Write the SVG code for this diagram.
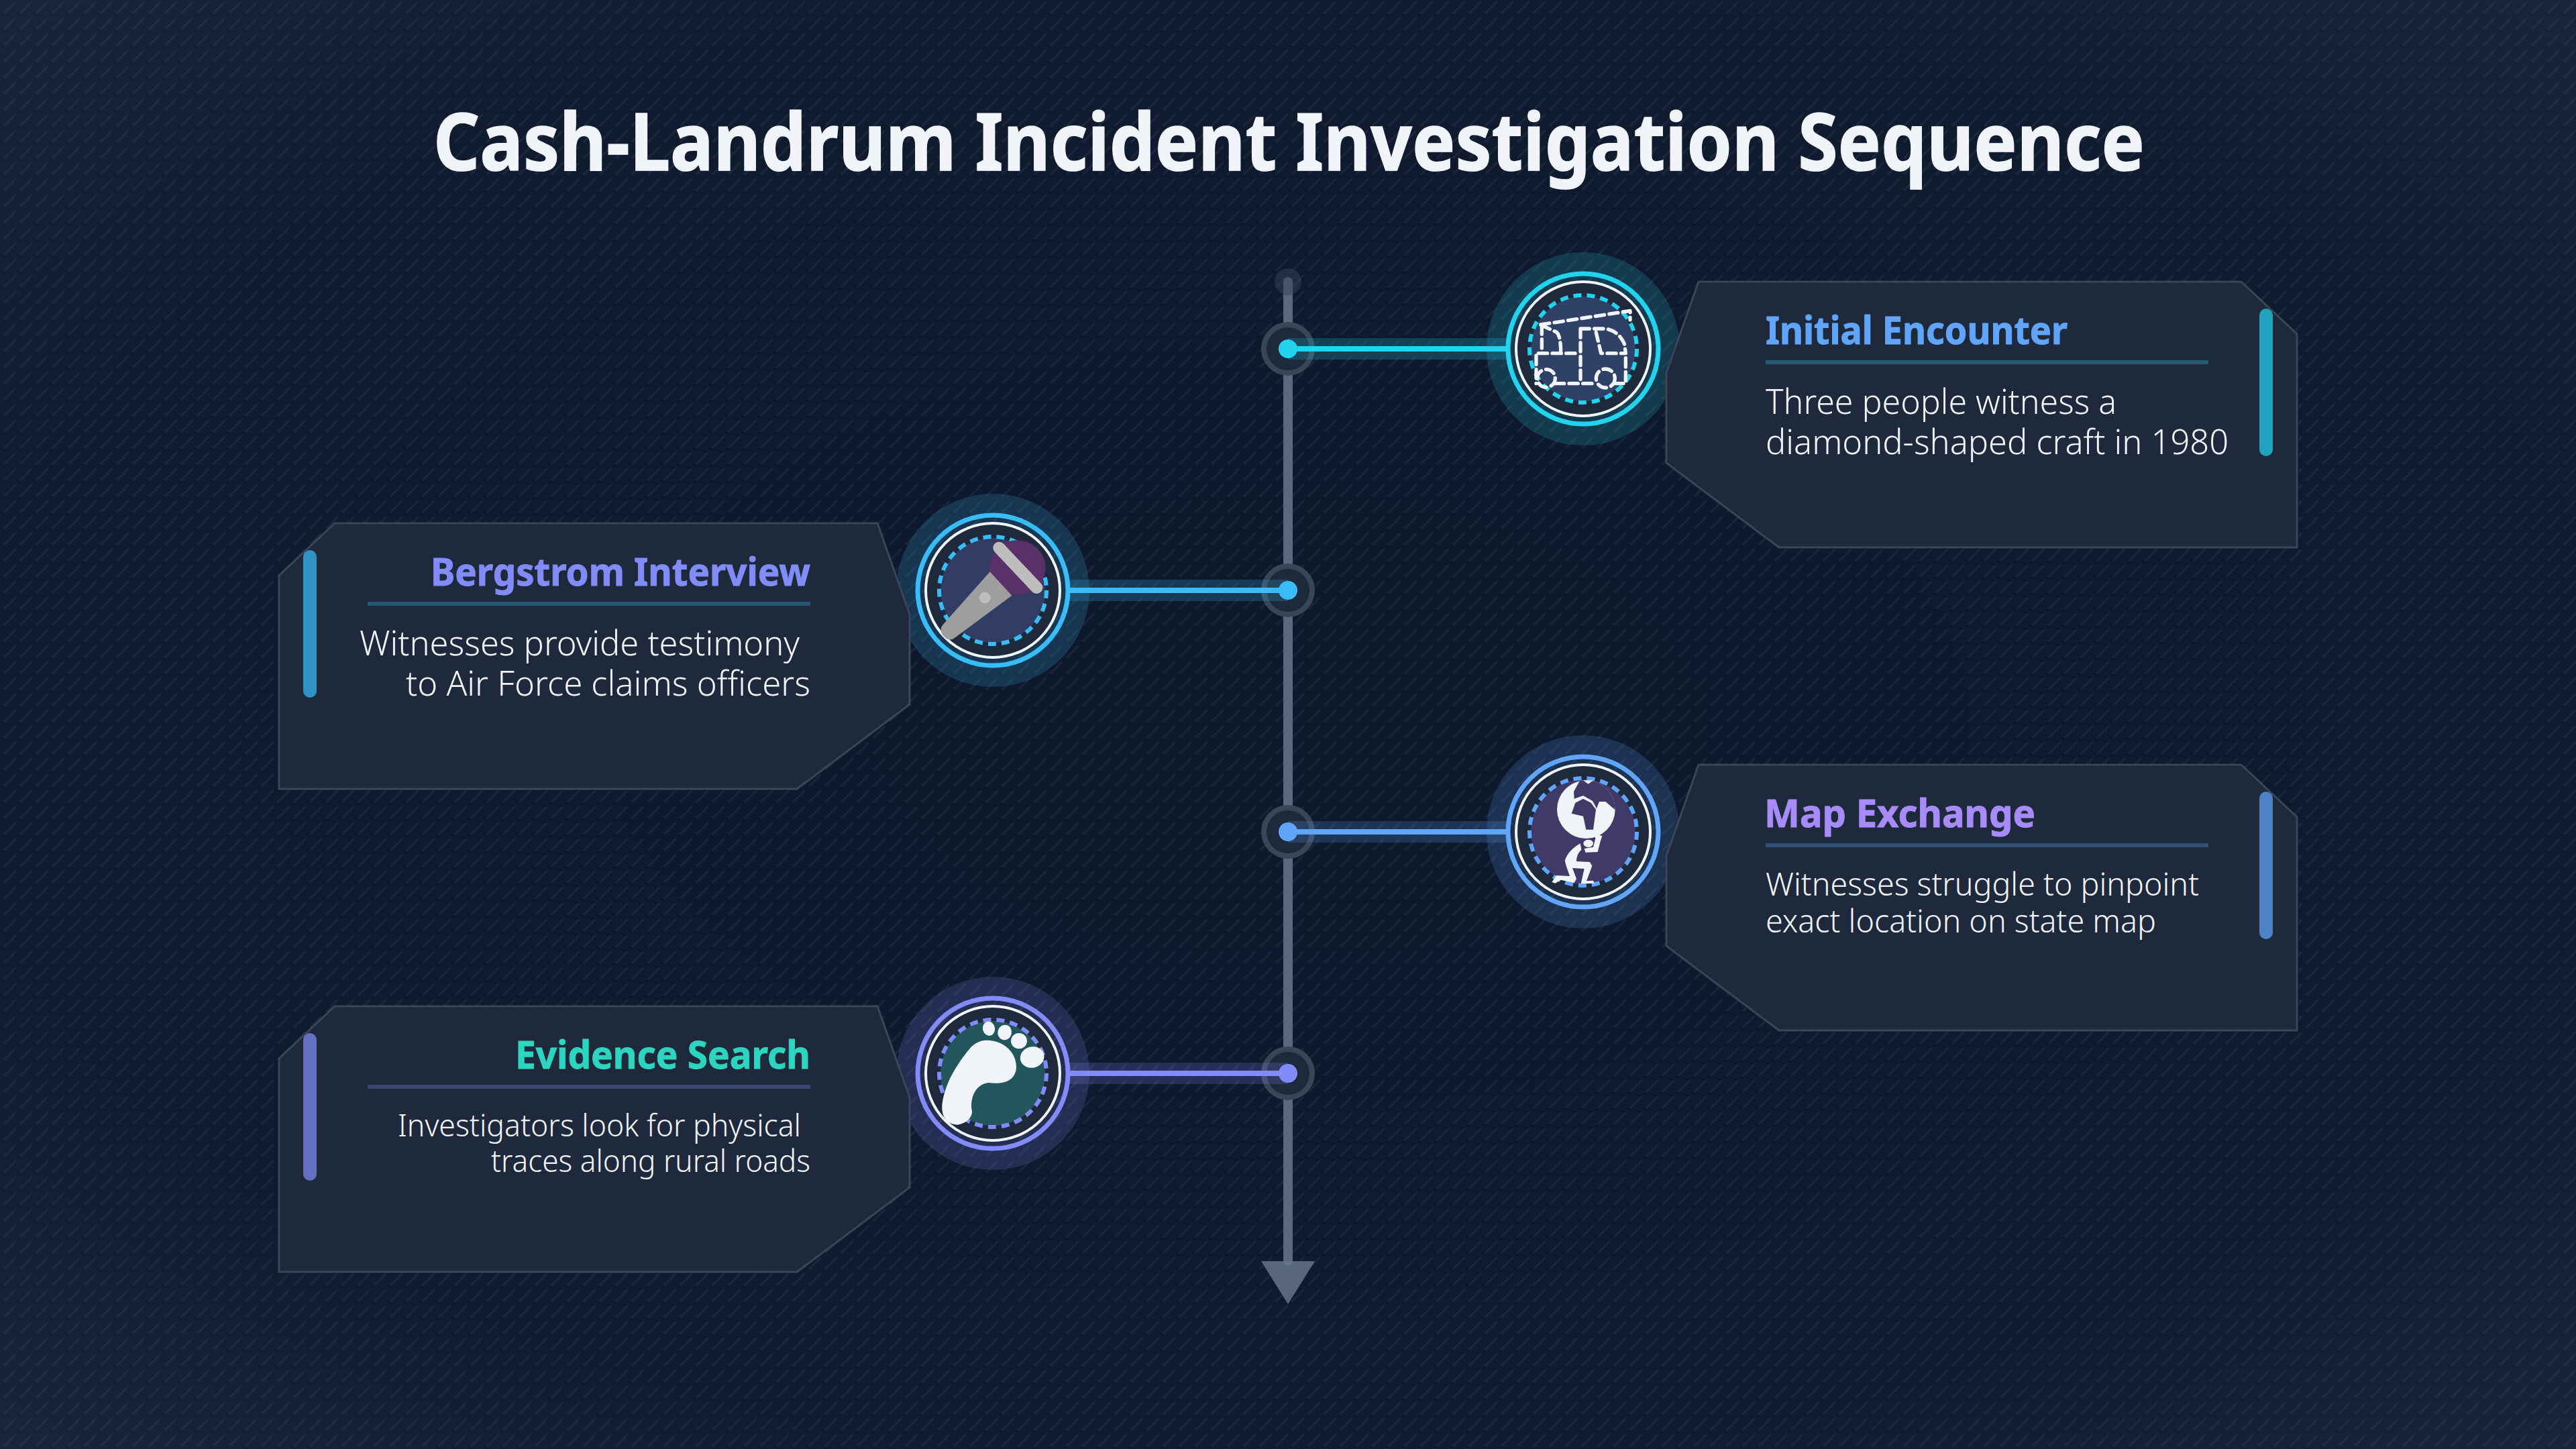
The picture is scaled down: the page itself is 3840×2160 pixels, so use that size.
<svg xmlns="http://www.w3.org/2000/svg" width="3840" height="2160" viewBox="0 0 3840 2160">
<defs>
<radialGradient id="bg" cx="50%" cy="50%" r="71%">
<stop offset="0" stop-color="#0e182b"/><stop offset="0.72" stop-color="#111b30"/><stop offset="1" stop-color="#19253b"/>
</radialGradient>
<pattern id="hatch" width="24" height="24" patternUnits="userSpaceOnUse">
<path d="M6 20L23 3" stroke="#94a3b8" stroke-opacity="0.09" stroke-width="3" fill="none"/>
</pattern>
</defs>
<style>
text{font-family:"Noto Sans","Open Sans","Liberation Sans",sans-serif}
.title{font-size:119px;font-weight:700;fill:#f1f5f9;stroke:#f1f5f9;stroke-width:1.5}
.head{font-size:58px;font-weight:700;stroke-width:1}
.body{font-weight:300;fill:#f1f5f9}
.card{fill:#1e293b;stroke:#3b4557;stroke-width:3}
.halo{fill:currentColor;fill-opacity:.18}
.ring{fill:none;stroke:currentColor;stroke-width:7}
.inner{fill:#1e293b;stroke:#f1f5f9;stroke-width:4}
.dash{fill:none;stroke:currentColor;stroke-width:6;stroke-dasharray:12 8.1}
.bar{fill:currentColor;fill-opacity:.72}
.rule{fill:currentColor;fill-opacity:.3}
.wire{stroke:currentColor;stroke-width:8}
.glow{stroke:currentColor;stroke-width:32;stroke-opacity:.2}
.hub{fill:#1e293b;stroke:#3a4557;stroke-width:8}
.dot{fill:currentColor}
.c1{color:#22d3ee}.c2{color:#38bdf8}.c3{color:#60a5fa}.c4{color:#818cf8}
.w{fill:#f1f5f9}
</style>
<rect width="3840" height="2160" fill="url(#bg)"/>
<rect width="3840" height="2160" fill="url(#hatch)"/>
<text id="title" class="title" x="646" y="254" textLength="2551" lengthAdjust="spacingAndGlyphs">Cash-Landrum Incident Investigation Sequence</text>

<g id="connectors" fill="none">
<line x1="1920" y1="420" x2="1920" y2="1880" stroke="#5b687d" stroke-width="14" stroke-linecap="round"/>
<circle cx="1920" cy="420" r="20" fill="#334155" fill-opacity=".5"/>
<polygon points="1880,1880 1960,1880 1920,1944" fill="#64748b" fill-opacity=".85"/>
<circle class="hub" cx="1920" cy="520" r="36"/><circle class="hub" cx="1920" cy="880" r="36"/><circle class="hub" cx="1920" cy="1240" r="36"/><circle class="hub" cx="1920" cy="1600" r="36"/>
<g class="c1"><line class="glow" x1="1920" y1="520" x2="2250" y2="520"/><line class="wire" x1="1920" y1="520" x2="2250" y2="520"/><circle class="dot" cx="1920" cy="520" r="14"/></g>
<g class="c2"><line class="glow" x1="1590" y1="880" x2="1920" y2="880"/><line class="wire" x1="1590" y1="880" x2="1920" y2="880"/><circle class="dot" cx="1920" cy="880" r="14"/></g>
<g class="c3"><line class="glow" x1="1920" y1="1240" x2="2250" y2="1240"/><line class="wire" x1="1920" y1="1240" x2="2250" y2="1240"/><circle class="dot" cx="1920" cy="1240" r="14"/></g>
<g class="c4"><line class="glow" x1="1590" y1="1600" x2="1920" y2="1600"/><line class="wire" x1="1590" y1="1600" x2="1920" y2="1600"/><circle class="dot" cx="1920" cy="1600" r="14"/></g>
</g>

<g id="node-initial-encounter" class="c1">
<circle class="halo" cx="2360" cy="520" r="144"/>
<circle class="ring" cx="2360" cy="520" r="112"/>
<circle class="inner" cx="2360" cy="520" r="100"/>
<circle cx="2360" cy="520" r="78" fill="#2f4166"/>
<circle class="dash" cx="2360" cy="520" r="80"/>
<g transform="translate(2180,360) scale(.33333)" fill="none" stroke="#f1f5f9" stroke-width="16" stroke-dasharray="40 22" stroke-linecap="round" stroke-linejoin="round">
<path d="M350 372L750 310L750 350"/>
<path d="M355 375L355 500M340 500L520 500M355 375L420 405Q440 420 440 500"/>
<path d="M528 390L528 635M528 390L640 390Q700 400 725 460L730 500L620 500L595 395"/>
<path d="M330 510L330 635M415 635L590 635M680 635L730 635L730 520"/>
<circle cx="375" cy="612" r="40"/><circle cx="640" cy="612" r="42"/>
</g>
<polygon class="card" points="2532,420 3341,420 3424,498 3424,816 2652,816 2484,690 2484,556"/>
<rect class="bar" x="3368" y="460" width="20" height="220" rx="10"/>
<text class="head" x="2632" y="513" fill="#60a5fa" stroke="#60a5fa" textLength="450" lengthAdjust="spacingAndGlyphs">Initial Encounter</text>
<rect class="rule" x="2632" y="537" width="660" height="6"/>
<text class="body" font-size="52" x="2632" y="617" textLength="523" lengthAdjust="spacingAndGlyphs">Three people witness a</text>
<text class="body" font-size="52" x="2632" y="677" textLength="690" lengthAdjust="spacingAndGlyphs">diamond-shaped craft in 1980</text>
</g>

<g id="node-bergstrom-interview" class="c2">
<circle class="halo" cx="1480" cy="880" r="144"/>
<circle class="ring" cx="1480" cy="880" r="112"/>
<circle class="inner" cx="1480" cy="880" r="100"/>
<circle cx="1480" cy="880" r="78" fill="#323d66"/>
<circle class="dash" cx="1480" cy="880" r="80"/>
<g transform="translate(1310,720) scale(.33333)">
<ellipse cx="620" cy="378" rx="126" ry="122" fill="#5a3068"/>
<path d="M497 397L595 503L340 692Q315 712 290 685Q265 655 290 630Z" fill="#9e9e9e"/>
<line x1="538" y1="290" x2="706" y2="468" stroke="#bdbdbd" stroke-width="54" stroke-linecap="round"/>
<circle cx="475" cy="513" r="25" fill="#bdbdbd"/>
</g>
<polygon class="card" points="1308,780 499,780 416,858 416,1176 1188,1176 1356,1050 1356,916"/>
<rect class="bar" x="452" y="820" width="20" height="220" rx="10"/>
<text class="head" x="642" y="873" fill="#818cf8" stroke="#818cf8" textLength="566" lengthAdjust="spacingAndGlyphs">Bergstrom Interview</text>
<rect class="rule" x="548" y="897" width="660" height="6"/>
<text class="body" font-size="52" x="536" y="977" textLength="656" lengthAdjust="spacingAndGlyphs">Witnesses provide testimony</text>
<text class="body" font-size="52" x="605" y="1037" textLength="603" lengthAdjust="spacingAndGlyphs">to Air Force claims officers</text>
</g>

<g id="node-map-exchange" class="c3">
<circle class="halo" cx="2360" cy="1240" r="144"/>
<circle class="ring" cx="2360" cy="1240" r="112"/>
<circle class="inner" cx="2360" cy="1240" r="100"/>
<circle cx="2360" cy="1240" r="78" fill="#3f3a68"/>
<circle class="dash" cx="2360" cy="1240" r="80"/>
<g transform="translate(2180,1080) scale(.33333)">
<circle class="w" cx="553" cy="380" r="130"/>
<path d="M524 253L498 300L500 332L540 318L582 342L600 375L612 345L640 345L683 382A130 130 0 0 0 524 253Z" fill="#3f3a68"/>
<path d="M540 332L575 350L597 380L585 470L553 470L540 410L488 398L505 350Z" fill="#3f3a68"/>
<polygon class="w" points="540,250 585,250 563,266"/>
<path class="w" d="M590 490L625 498L615 530L605 570L550 572L545 555L585 548L595 510Z"/>
<ellipse class="w" cx="563" cy="532" rx="22" ry="17"/>
<path class="w" d="M527 532Q470 565 458 610L465 635L480 678L420 675L400 705L415 710L440 695L500 708L510 690L492 642L545 645L530 712L590 710L585 698L555 700L580 632L570 615L510 612Q510 580 532 560Z"/>
</g>
<polygon class="card" points="2532,1140 3341,1140 3424,1218 3424,1536 2652,1536 2484,1410 2484,1276"/>
<rect class="bar" x="3368" y="1180" width="20" height="220" rx="10"/>
<text class="head" x="2630" y="1233" fill="#a78bfa" stroke="#a78bfa" textLength="404" lengthAdjust="spacingAndGlyphs">Map Exchange</text>
<rect class="rule" x="2632" y="1257" width="660" height="6"/>
<text class="body" font-size="48" x="2632" y="1335" textLength="646" lengthAdjust="spacingAndGlyphs">Witnesses struggle to pinpoint</text>
<text class="body" font-size="48" x="2632" y="1390" textLength="582" lengthAdjust="spacingAndGlyphs">exact location on state map</text>
</g>

<g id="node-evidence-search" class="c4">
<circle class="halo" cx="1480" cy="1600" r="144"/>
<circle class="ring" cx="1480" cy="1600" r="112"/>
<circle class="inner" cx="1480" cy="1600" r="100"/>
<circle cx="1480" cy="1600" r="78" fill="#23555c"/>
<circle class="dash" cx="1480" cy="1600" r="80"/>
<g transform="translate(1310,1440) scale(.33333)">
<path class="w" d="M480 332C560 330 620 390 615 460C605 520 550 530 490 522C430 530 410 590 415 640C425 665 400 705 350 710C300 705 280 670 283 620C295 530 340 450 410 365C430 345 455 332 480 332Z"/>
<ellipse class="w" cx="492" cy="280" rx="27" ry="32" transform="rotate(-10 492 280)"/>
<ellipse class="w" cx="563" cy="297" rx="31" ry="34" transform="rotate(15 563 297)"/>
<ellipse class="w" cx="627" cy="335" rx="36" ry="35"/>
<ellipse class="w" cx="686" cy="408" rx="54" ry="47" transform="rotate(-15 686 408)"/>
</g>
<polygon class="card" points="1308,1500 499,1500 416,1578 416,1896 1188,1896 1356,1770 1356,1636"/>
<rect class="bar" x="452" y="1540" width="20" height="220" rx="10"/>
<text class="head" x="768" y="1593" fill="#2dd4bf" stroke="#2dd4bf" textLength="440" lengthAdjust="spacingAndGlyphs">Evidence Search</text>
<rect class="rule" x="548" y="1617" width="660" height="6"/>
<text class="body" font-size="46" x="593" y="1694" textLength="601" lengthAdjust="spacingAndGlyphs">Investigators look for physical</text>
<text class="body" font-size="46" x="732" y="1747" textLength="476" lengthAdjust="spacingAndGlyphs">traces along rural roads</text>
</g>
</svg>
